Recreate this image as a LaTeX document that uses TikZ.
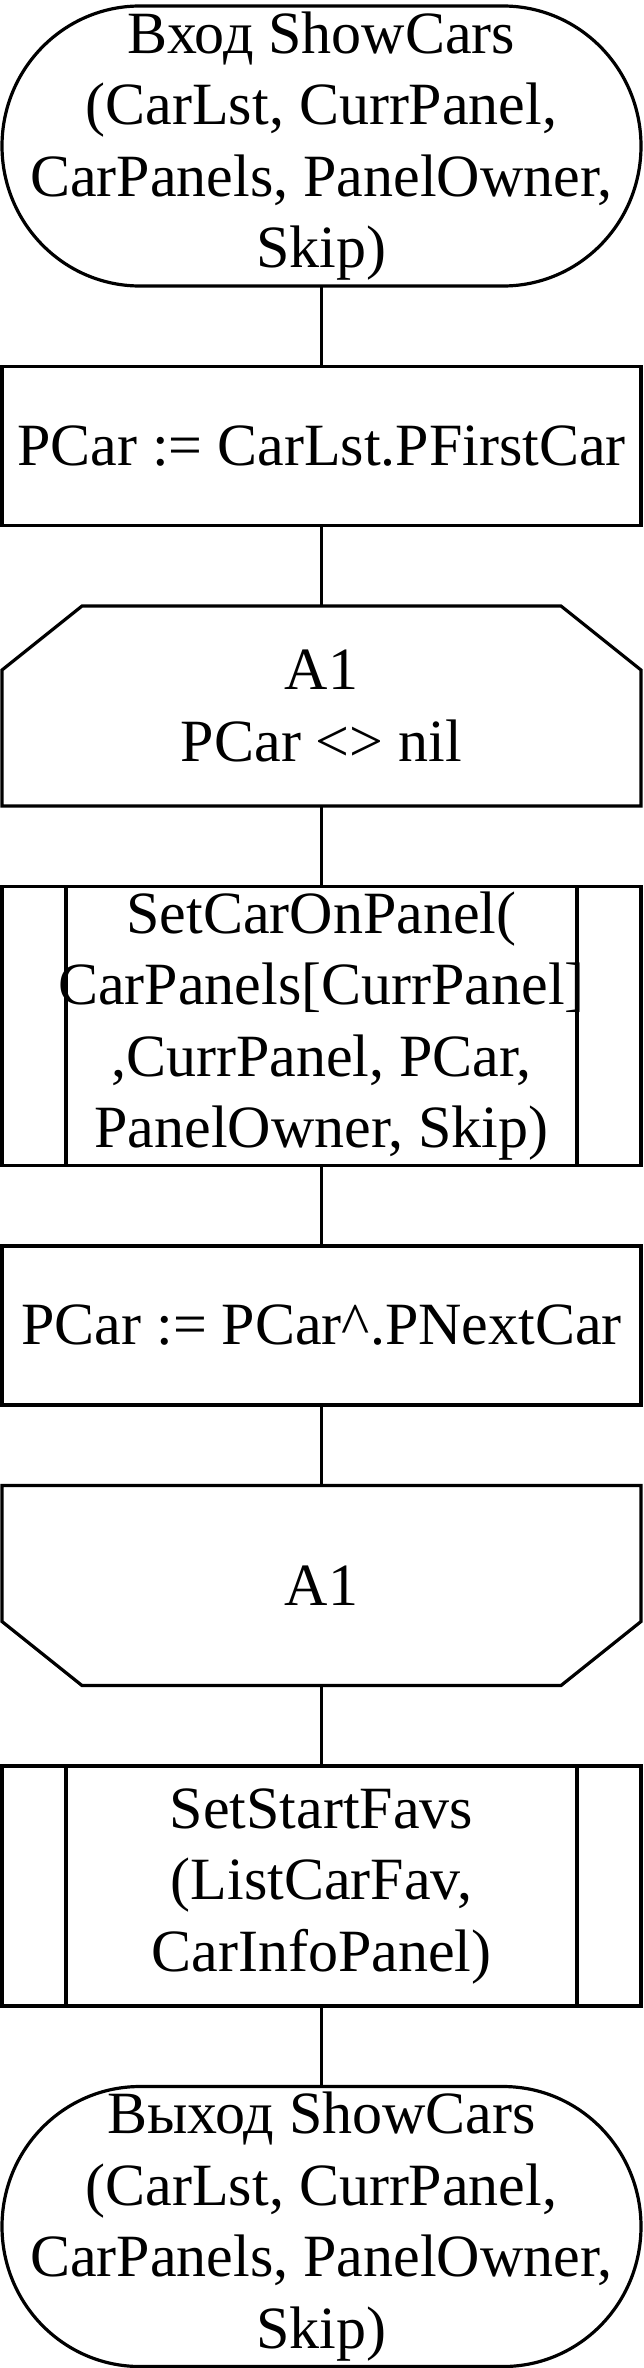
\documentclass[tikz,border=0pt]{standalone}
\usepackage{fontspec}
\setmainfont{Liberation Serif}
\usetikzlibrary{positioning}

\tikzset{
    flowline/.style={line width=3.2pt},
    block/.style={flowline, minimum width=639pt, inner sep=0pt, outer sep=0pt,
        align=center, font=\fontsize{60}{71.5}\selectfont},
    term/.style={block, rectangle, minimum height=280pt},
    proc/.style={block, draw, rectangle, minimum height=159pt},
    subproc/.style={block, draw, rectangle},
    loopbox/.style={block, rectangle, minimum height=200pt}
}

% outline of a terminal node with rounded ends
\newcommand\termframe[1]{%
    \draw[flowline] ([xshift=138pt]#1.north west) -- ([xshift=-138pt]#1.north east)
        arc[start angle=90, end angle=-90, x radius=138pt, y radius=140pt]
        -- ([xshift=138pt]#1.south west)
        arc[start angle=270, end angle=90, x radius=138pt, y radius=140pt] -- cycle;}

\begin{document}
\begin{tikzpicture}[x=1pt, y=1pt, node distance=80.5pt]

    \useasboundingbox (0,0) rectangle (644,-2368);

    \node[term] (start) at (321.5,-146) {Вход ShowCars\\(CarLst, CurrPanel,\\CarPanels, PanelOwner,\\Skip)};
    \node[proc, below=of start] (first) {PCar := CarLst.PFirstCar};
    \node[loopbox, below=of first] (loopbeg) {A1\\PCar <> nil};
    \node[subproc, minimum height=279pt, below=of loopbeg] (setcar) {SetCarOnPanel(\\CarPanels[CurrPanel]\\,CurrPanel, PCar,\\PanelOwner, Skip)};
    \node[proc, below=of setcar] (next) {PCar := PCar\textasciicircum.PNextCar};
    \node[loopbox, below=of next] (loopend) {A1};
    \node[subproc, minimum height=240pt, below=of loopend] (favs) {SetStartFavs\\(ListCarFav,\\CarInfoPanel)};
    \node[term, below=of favs] (stop) {Выход ShowCars\\(CarLst, CurrPanel,\\CarPanels, PanelOwner,\\Skip)};

    % terminals
    \termframe{start}
    \termframe{stop}

    % loop limits
    \draw[flowline] ([yshift=-64pt]loopbeg.north west) -- ([xshift=80pt]loopbeg.north west)
        -- ([xshift=-80pt]loopbeg.north east) -- ([yshift=-64pt]loopbeg.north east)
        -- (loopbeg.south east) -- (loopbeg.south west) -- cycle;
    \draw[flowline] (loopend.north west) -- (loopend.north east)
        -- ([yshift=64pt]loopend.south east) -- ([xshift=-80pt]loopend.south east)
        -- ([xshift=80pt]loopend.south west) -- ([yshift=64pt]loopend.south west) -- cycle;

    % predefined process sides
    \draw[flowline] ([xshift=64pt]setcar.north west) -- ([xshift=64pt]setcar.south west);
    \draw[flowline] ([xshift=-64pt]setcar.north east) -- ([xshift=-64pt]setcar.south east);
    \draw[flowline] ([xshift=64pt]favs.north west) -- ([xshift=64pt]favs.south west);
    \draw[flowline] ([xshift=-64pt]favs.north east) -- ([xshift=-64pt]favs.south east);

    \draw[flowline] (start.south) -- (first.north);
    \draw[flowline] (first.south) -- (loopbeg.north);
    \draw[flowline] (loopbeg.south) -- (setcar.north);
    \draw[flowline] (setcar.south) -- (next.north);
    \draw[flowline] (next.south) -- (loopend.north);
    \draw[flowline] (loopend.south) -- (favs.north);
    \draw[flowline] (favs.south) -- (stop.north);

\end{tikzpicture}
\end{document}
